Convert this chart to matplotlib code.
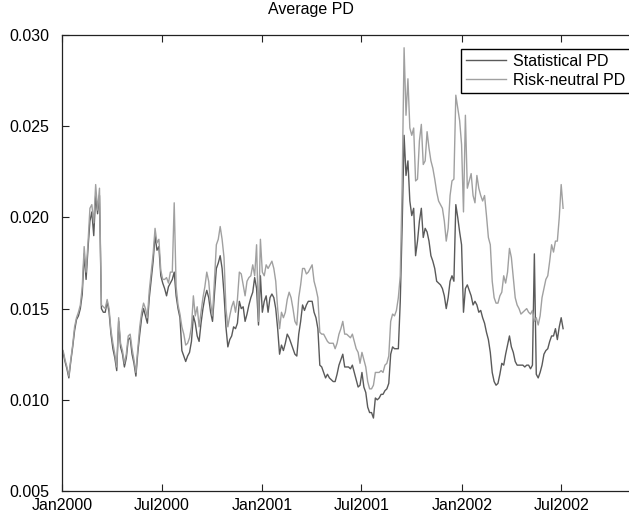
import matplotlib
matplotlib.use('Agg')
import matplotlib.pyplot as plt
import matplotlib.dates as mdates
import pandas as pd

# readings every half week, starting Mon 3 Jan 2000
start_date = '2000-01-03'
stat_pd = [
    0.0126, 0.0121, 0.0117, 0.0112, 0.0121, 0.0129, 0.0138, 0.0144, 0.0146, 0.0150,
    0.0158, 0.0180, 0.0166, 0.0183, 0.0198, 0.0203, 0.0190, 0.0212, 0.0202, 0.0212,
    0.0150, 0.0148, 0.0148, 0.0154, 0.0148, 0.0136, 0.0128, 0.0123, 0.0116, 0.0143,
    0.0129, 0.0125, 0.0118, 0.0123, 0.0133, 0.0134, 0.0125, 0.0120, 0.0113, 0.0126,
    0.0136, 0.0145, 0.0150, 0.0146, 0.0142, 0.0156, 0.0166, 0.0176, 0.0190, 0.0182,
    0.0184, 0.0168, 0.0164, 0.0161, 0.0157, 0.0162, 0.0164, 0.0166, 0.0170, 0.0157,
    0.0150, 0.0145, 0.0127, 0.0124, 0.0121, 0.0124, 0.0126, 0.0132, 0.0146, 0.0142,
    0.0135, 0.0132, 0.0142, 0.0150, 0.0156, 0.0160, 0.0156, 0.0148, 0.0143, 0.0158,
    0.0172, 0.0175, 0.0179, 0.0172, 0.0158, 0.0140, 0.0129, 0.0133, 0.0135, 0.0140,
    0.0139, 0.0142, 0.0154, 0.0150, 0.0151, 0.0143, 0.0147, 0.0152, 0.0156, 0.0159,
    0.0167, 0.0161, 0.0141, 0.0168, 0.0148, 0.0154, 0.0157, 0.0148, 0.0156, 0.0158,
    0.0156, 0.0150, 0.0139, 0.0125, 0.0130, 0.0127, 0.0131, 0.0136, 0.0134, 0.0131,
    0.0128, 0.0125, 0.0124, 0.0136, 0.0143, 0.0152, 0.0149, 0.0152, 0.0154, 0.0154,
    0.0154, 0.0148, 0.0145, 0.0139, 0.0119, 0.0118, 0.0115, 0.0112, 0.0114, 0.0112,
    0.0111, 0.0110, 0.0110, 0.0114, 0.0119, 0.0122, 0.0125, 0.0118, 0.0118, 0.0118,
    0.0117, 0.0119, 0.0115, 0.0111, 0.0107, 0.0108, 0.0115, 0.0107, 0.0104, 0.0096,
    0.0093, 0.0093, 0.0090, 0.0101, 0.0100, 0.0101, 0.0103, 0.0103, 0.0105, 0.0106,
    0.0109, 0.0125, 0.0129, 0.0128, 0.0128, 0.0128, 0.0154, 0.0196, 0.0245, 0.0223,
    0.0231, 0.0209, 0.0201, 0.0205, 0.0179, 0.0187, 0.0198, 0.0205, 0.0189, 0.0194,
    0.0192, 0.0187, 0.0179, 0.0176, 0.0172, 0.0165, 0.0164, 0.0163, 0.0161, 0.0157,
    0.0150, 0.0156, 0.0165, 0.0168, 0.0165, 0.0207, 0.0200, 0.0192, 0.0185, 0.0148,
    0.0161, 0.0163, 0.0160, 0.0157, 0.0152, 0.0154, 0.0152, 0.0148, 0.0149, 0.0145,
    0.0142, 0.0137, 0.0133, 0.0126, 0.0115, 0.0110, 0.0108, 0.0109, 0.0114, 0.0120,
    0.0119, 0.0125, 0.0130, 0.0135, 0.0129, 0.0126, 0.0121, 0.0119, 0.0119, 0.0119,
    0.0119, 0.0118, 0.0119, 0.0119, 0.0117, 0.0119, 0.0180, 0.0114, 0.0112, 0.0115,
    0.0119, 0.0125, 0.0127, 0.0128, 0.0132, 0.0135, 0.0135, 0.0139, 0.0133, 0.0140,
    0.0145, 0.0139]
rn_pd = [
    0.0127, 0.0122, 0.0118, 0.0113, 0.0122, 0.0130, 0.0140, 0.0145, 0.0148, 0.0152,
    0.0162, 0.0184, 0.0170, 0.0186, 0.0205, 0.0207, 0.0197, 0.0218, 0.0204, 0.0216,
    0.0152, 0.0151, 0.0150, 0.0155, 0.0150, 0.0138, 0.0131, 0.0125, 0.0118, 0.0145,
    0.0131, 0.0127, 0.0120, 0.0125, 0.0135, 0.0136, 0.0128, 0.0122, 0.0115, 0.0128,
    0.0140, 0.0148, 0.0153, 0.0150, 0.0145, 0.0160, 0.0170, 0.0180, 0.0194, 0.0186,
    0.0188, 0.0171, 0.0166, 0.0166, 0.0167, 0.0164, 0.0170, 0.0170, 0.0208, 0.0162,
    0.0152, 0.0147, 0.0140, 0.0136, 0.0130, 0.0131, 0.0134, 0.0140, 0.0157, 0.0146,
    0.0151, 0.0140, 0.0148, 0.0156, 0.0162, 0.0170, 0.0165, 0.0153, 0.0146, 0.0165,
    0.0185, 0.0188, 0.0195, 0.0188, 0.0178, 0.0150, 0.0140, 0.0146, 0.0151, 0.0154,
    0.0148, 0.0155, 0.0170, 0.0169, 0.0163, 0.0157, 0.0165, 0.0167, 0.0168, 0.0174,
    0.0168, 0.0185, 0.0143, 0.0188, 0.0170, 0.0168, 0.0174, 0.0172, 0.0174, 0.0176,
    0.0172, 0.0165, 0.0150, 0.0139, 0.0148, 0.0145, 0.0148, 0.0155, 0.0159, 0.0156,
    0.0150, 0.0143, 0.0141, 0.0156, 0.0163, 0.0172, 0.0172, 0.0169, 0.0170, 0.0172,
    0.0174, 0.0165, 0.0161, 0.0156, 0.0137, 0.0136, 0.0136, 0.0134, 0.0132, 0.0131,
    0.0131, 0.0131, 0.0128, 0.0131, 0.0136, 0.0139, 0.0143, 0.0136, 0.0136, 0.0135,
    0.0134, 0.0136, 0.0132, 0.0128, 0.0126, 0.0120, 0.0126, 0.0122, 0.0118, 0.0110,
    0.0106, 0.0106, 0.0108, 0.0115, 0.0115, 0.0115, 0.0116, 0.0115, 0.0119, 0.0120,
    0.0124, 0.0143, 0.0147, 0.0146, 0.0149, 0.0156, 0.0168, 0.0218, 0.0293, 0.0256,
    0.0276, 0.0249, 0.0245, 0.0249, 0.0220, 0.0221, 0.0242, 0.0251, 0.0229, 0.0231,
    0.0247, 0.0238, 0.0231, 0.0227, 0.0221, 0.0214, 0.0209, 0.0207, 0.0205, 0.0198,
    0.0187, 0.0194, 0.0212, 0.0220, 0.0221, 0.0267, 0.0260, 0.0253, 0.0240, 0.0203,
    0.0256, 0.0216, 0.0220, 0.0224, 0.0212, 0.0208, 0.0223, 0.0216, 0.0212, 0.0209,
    0.0212, 0.0201, 0.0189, 0.0185, 0.0165, 0.0156, 0.0153, 0.0153, 0.0157, 0.0159,
    0.0168, 0.0164, 0.0170, 0.0183, 0.0178, 0.0167, 0.0156, 0.0152, 0.0150, 0.0147,
    0.0148, 0.0149, 0.0150, 0.0148, 0.0147, 0.0149, 0.0143, 0.0145, 0.0141, 0.0146,
    0.0156, 0.0161, 0.0166, 0.0168, 0.0176, 0.0185, 0.0181, 0.0187, 0.0187, 0.0200,
    0.0218, 0.0205]
labels = ['Statistical PD', 'Risk-neutral PD']
tick_dates = ['2000-01-01', '2000-07-01', '2001-01-01', '2001-07-01',
              '2002-01-01', '2002-07-01', '2003-01-01']

plt.rcParams['font.family'] = ['Liberation Sans', 'DejaVu Sans']
plt.rcParams['font.size'] = 11.5

dates = pd.date_range(start_date, periods=len(stat_pd), freq='84h')

fig = plt.figure(figsize=(6.29, 5.16), dpi=100)
ax = fig.add_axes([62 / 629, 25 / 516, 578 / 629, 456 / 516])

ax.plot(dates, stat_pd, color='#5a5a5a', lw=1.0, label=labels[0])
ax.plot(dates, rn_pd, color='#a0a0a0', lw=1.0, label=labels[1])

ax.set_yticks([0.005, 0.010, 0.015, 0.020, 0.025, 0.030])
ax.yaxis.set_major_formatter(plt.FormatStrFormatter('%.3f'))
ax.set_xticks(pd.to_datetime(tick_dates))
ax.xaxis.set_major_formatter(mdates.DateFormatter('%b%Y'))
# limits after ticks, set_xticks would widen them
ax.set_xlim(pd.Timestamp('2000-01-01'), pd.Timestamp('2002-11-22'))
ax.set_ylim(0.005, 0.030)

ax.tick_params(direction='in', length=5, width=0.8, top=True, right=True,
               labelsize=11.5, colors='#222222', labelcolor='black')
ax.tick_params(axis='x', pad=5)
ax.tick_params(axis='y', pad=9)
for s in ax.spines.values():
    s.set_color('#222222')
    s.set_linewidth(0.9)

ax.set_title('Average PD', fontsize=11.5, x=(311 - 62) / 578, pad=15)

leg = ax.legend(loc='upper left', bbox_to_anchor=(461 / 629, 1 - 49 / 516),
                bbox_transform=fig.transFigure, borderaxespad=0, fancybox=False,
                framealpha=1, edgecolor='black', handlelength=2.5,
                handletextpad=0.45, labelspacing=0.25, borderpad=0.3, fontsize=11.5)
leg.get_frame().set_linewidth(1.0)

fig.savefig('out.png', dpi=100)
